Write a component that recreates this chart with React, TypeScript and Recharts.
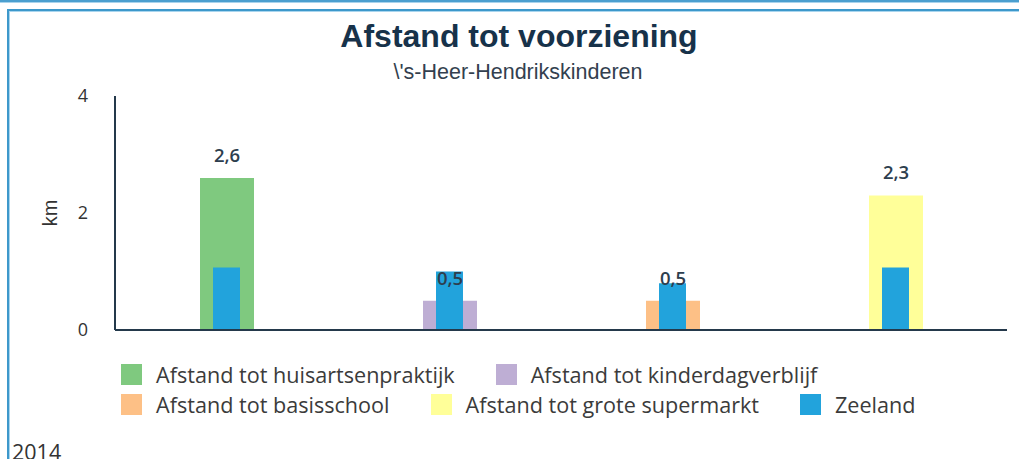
import { Bar, BarChart, Cell, LabelList, XAxis, YAxis } from 'recharts';

const categories = [
  'Afstand tot huisartsenpraktijk',
  'Afstand tot kinderdagverblijf',
  'Afstand tot basisschool',
  'Afstand tot grote supermarkt',
];
const gemeenteValues = [2.6, 0.5, 0.5, 2.3];
const zeelandValues = [1.07, 1.0, 0.8, 1.07];
const categoryColors = ['#7fc97f', '#beaed4', '#fdc086', '#ffff99'];
const zeelandLabel = 'Zeeland';
const zeelandColor = '#22a3dc';
const yTicks = [0, 2, 4];

const data = categories.map((name, i) => ({
  name,
  value: gemeenteValues[i],
  zeeland: zeelandValues[i],
}));

const legendItems = [
  ...categories.map((name, i) => ({ name, color: categoryColors[i] })),
  { name: zeelandLabel, color: zeelandColor },
];

const axisColor = '#24394b';
const openSans = '"Open Sans", sans-serif';
const arial = '"Liberation Sans", Arial, sans-serif';

const formatKm = (v: unknown) => Number(v).toFixed(1).replace('.', ',');

function KmLabel(props: any) {
  const { viewBox } = props;
  const x = viewBox.x + 57;
  const y = viewBox.y + viewBox.height / 2;
  return (
    <text
      x={x}
      y={y}
      transform={`rotate(-90 ${x} ${y})`}
      textAnchor="middle"
      fontSize={20}
      fontFamily={arial}
      fill="#333"
    >
      km
    </text>
  );
}

export default function App() {
  return (
    <div
      style={{
        position: 'fixed',
        left: 0,
        top: 0,
        width: 1019,
        height: 459,
        overflow: 'hidden',
        background: '#fff',
      }}
    >
      {/* rand van het vorige blok */}
      <div
        style={{
          position: 'absolute',
          left: 0,
          top: 0,
          width: 1019,
          height: 2,
          background: '#4b9fcf',
          borderBottom: '1px solid #a8d3ec',
        }}
      />
      <div
        style={{
          position: 'absolute',
          left: 7,
          top: 9,
          width: 1040,
          height: 500,
          border: '2px solid #3d98cb',
          boxShadow: 'inset 1px 1px 0 #a9d5ee',
        }}
      />

      <div
        style={{
          position: 'absolute',
          left: 0,
          top: 20,
          width: 1038,
          textAlign: 'center',
          fontFamily: arial,
          fontWeight: 700,
          fontSize: 32,
          lineHeight: '32px',
          color: '#17324a',
        }}
      >
        Afstand tot voorziening
      </div>
      <div
        style={{
          position: 'absolute',
          left: 0,
          top: 62,
          width: 1036,
          textAlign: 'center',
          fontFamily: arial,
          fontSize: 21.5,
          lineHeight: '21.5px',
          color: '#333f4f',
        }}
      >
        \'s-Heer-Hendrikskinderen
      </div>

      <div style={{ position: 'absolute', left: 0, top: 0 }}>
        <BarChart
          width={1019}
          height={459}
          data={data}
          margin={{ top: 96, right: 12, bottom: 127, left: 0 }}
        >
          <XAxis
            xAxisId="main"
            dataKey="name"
            height={2}
            tick={false}
            tickLine={false}
            axisLine={{ stroke: axisColor, strokeWidth: 2 }}
          />
          <XAxis xAxisId="zeeland" dataKey="name" height={0} hide />
          <XAxis xAxisId="labels" dataKey="name" height={0} hide />
          <YAxis
            width={115}
            domain={[0, 4]}
            ticks={yTicks}
            tickLine={false}
            tickSize={0}
            tickMargin={27}
            axisLine={{ stroke: axisColor, strokeWidth: 2 }}
            tick={{ fontSize: 18, fontFamily: openSans, fill: '#333' }}
            label={<KmLabel />}
          />
          <Bar xAxisId="main" dataKey="value" barSize={54} isAnimationActive={false}>
            {data.map((d, i) => (
              <Cell key={d.name} fill={categoryColors[i]} />
            ))}
          </Bar>
          <Bar
            xAxisId="zeeland"
            dataKey="zeeland"
            barSize={27}
            fill={zeelandColor}
            isAnimationActive={false}
          />
          <Bar
            xAxisId="labels"
            dataKey="value"
            barSize={54}
            fill="transparent"
            isAnimationActive={false}
          >
            <LabelList
              dataKey="value"
              position="top"
              offset={16}
              formatter={formatKm}
              style={{
                fontSize: 18.5,
                fontWeight: 600,
                fontFamily: openSans,
                fill: '#2d3e4e',
              }}
            />
          </Bar>
        </BarChart>
      </div>

      <div
        style={{
          position: 'absolute',
          left: 121,
          top: 359,
          width: 830,
          display: 'flex',
          flexWrap: 'wrap',
          columnGap: 41,
          fontFamily: openSans,
          fontSize: 21.6,
          color: '#3b3b3b',
        }}
      >
        {legendItems.map((item) => (
          <div
            key={item.name}
            style={{ display: 'flex', alignItems: 'center', height: 30.5 }}
          >
            <span
              style={{
                display: 'inline-block',
                width: 21,
                height: 21,
                background: item.color,
                marginRight: 14,
              }}
            />
            <span style={{ whiteSpace: 'nowrap' }}>{item.name}</span>
          </div>
        ))}
      </div>

      <div
        style={{
          position: 'absolute',
          left: 12,
          top: 437,
          fontFamily: openSans,
          fontSize: 21.5,
          color: '#333',
        }}
      >
        2014
      </div>
    </div>
  );
}
